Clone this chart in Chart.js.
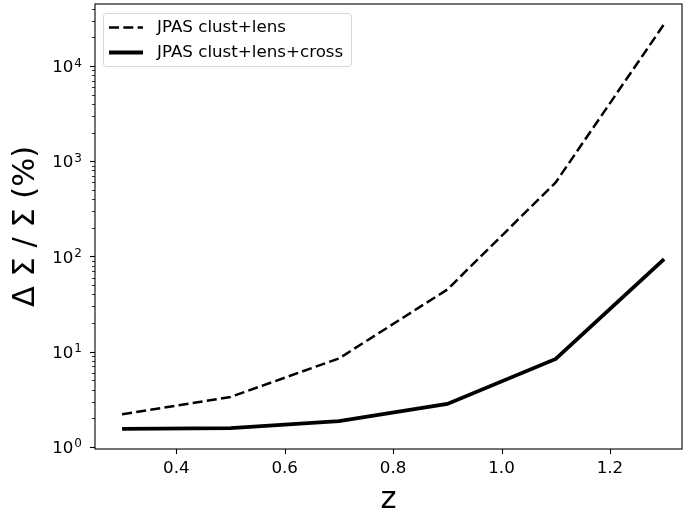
<!DOCTYPE html>
<html>
<head>
<meta charset="utf-8">
<script src="https://cdn.jsdelivr.net/npm/chart.js@4.4.0/dist/chart.umd.min.js"></script>
<style>
  html, body { margin: 0; padding: 0; background: #fff; }
  canvas { display: block; }
</style>
</head>
<body>
<canvas id="zchart" width="683" height="512"></canvas>
<script>
// redshift bins and relative errors (%)
const zValues = [0.3, 0.5, 0.7, 0.9, 1.1, 1.3];
const clustLens = [2.2, 3.35, 8.5, 45, 600, 27500];
const clustLensCross = [1.55, 1.58, 1.87, 2.83, 8.4, 94];
const xTicks = [0.4, 0.6, 0.8, 1.0, 1.2];
const yTicks = [1, 10, 100, 1000, 10000];
const yTickExps = ["0", "1", "2", "3", "4"];
const seriesNames = ["JPAS clust+lens", "JPAS clust+lens+cross"];

const FONT = "'DejaVu Sans', sans-serif";

// ticks, y labels, frame and legend drawn like matplotlib
const decorations = {
  id: "decorations",
  afterDraw(chart) {
    const ctx = chart.ctx;
    const area = chart.chartArea;
    const xs = chart.scales.x;
    const ys = chart.scales.y;
    ctx.save();
    ctx.strokeStyle = "#000";
    ctx.lineWidth = 1.1;
    ctx.strokeRect(area.left, area.top, area.right - area.left, area.bottom - area.top);

    // x ticks
    xTicks.forEach(v => {
      const px = Math.round(xs.getPixelForValue(v)) + 0.5;
      ctx.beginPath();
      ctx.moveTo(px, area.bottom);
      ctx.lineTo(px, area.bottom + 5);
      ctx.stroke();
    });
    // y ticks, major and minor
    for (let k = 0; k <= 4; k++) {
      for (let m = 1; m <= 9; m++) {
        const v = m * Math.pow(10, k);
        if (v < ys.min || v > ys.max) continue;
        const py = Math.round(ys.getPixelForValue(v)) + 0.5;
        ctx.lineWidth = m === 1 ? 1.1 : 0.8;
        ctx.beginPath();
        ctx.moveTo(area.left, py);
        ctx.lineTo(area.left - (m === 1 ? 5 : 3), py);
        ctx.stroke();
      }
    }
    // y labels as 10 with a raised exponent
    ctx.fillStyle = "#000";
    ctx.textAlign = "right";
    ctx.textBaseline = "alphabetic";
    yTicks.forEach((v, i) => {
      const py = ys.getPixelForValue(v);
      const right = area.left - 13;
      ctx.font = "12px " + FONT;
      const ew = ctx.measureText(yTickExps[i]).width;
      ctx.fillText(yTickExps[i], right, py + 0.5);
      ctx.font = "16.7px " + FONT;
      ctx.fillText("10", right - ew - 1, py + 6.2);
    });

    // legend
    const bx = area.left + 8, by = area.top + 9, bw = 248, bh = 53;
    ctx.fillStyle = "rgba(255,255,255,0.8)";
    ctx.strokeStyle = "#d6d6d6";
    ctx.lineWidth = 1;
    ctx.beginPath();
    ctx.roundRect(bx + 0.5, by + 0.5, bw, bh, 3);
    ctx.fill();
    ctx.stroke();
    ctx.font = "16.7px " + FONT;
    ctx.textAlign = "left";
    ctx.textBaseline = "middle";
    ctx.fillStyle = "#000";
    chart.data.datasets.forEach((ds, i) => {
      const ly = by + 14.5 + i * 25;
      ctx.strokeStyle = "#000";
      ctx.lineWidth = ds.borderWidth;
      ctx.setLineDash(ds.borderDash || []);
      ctx.beginPath();
      ctx.moveTo(bx + 6, ly);
      ctx.lineTo(bx + 40, ly);
      ctx.stroke();
      ctx.setLineDash([]);
      ctx.fillText(ds.label, bx + 54, ly);
    });
    ctx.restore();
  }
};

new Chart(document.getElementById("zchart"), {
  type: "line",
  data: {
    datasets: [{
      label: seriesNames[0],
      data: zValues.map((z, i) => ({x: z, y: clustLens[i]})),
      borderColor: "#000",
      borderWidth: 2.5,
      borderDash: [10, 4.3],
      pointRadius: 0,
      tension: 0
    }, {
      label: seriesNames[1],
      data: zValues.map((z, i) => ({x: z, y: clustLensCross[i]})),
      borderColor: "#000",
      borderWidth: 3.8,
      pointRadius: 0,
      tension: 0
    }]
  },
  options: {
    responsive: false,
    animation: false,
    devicePixelRatio: 1,
    layout: {padding: {top: 4, right: 1, left: 0, bottom: 0}},
    plugins: {legend: {display: false}, tooltip: {enabled: false}},
    scales: {
      x: {
        type: "linear",
        min: 0.25,
        max: 1.333,
        afterBuildTicks: s => { s.ticks = xTicks.map(v => ({value: v})); },
        afterFit: s => { s.height = 63; s.paddingLeft = 0; s.paddingRight = 0; },
        grid: {display: false, drawTicks: false},
        border: {display: false},
        ticks: {
          color: "#000",
          font: {family: FONT, size: 16.7},
          padding: 10,
          maxRotation: 0,
          callback: v => v.toFixed(1)
        },
        title: {
          display: true,
          text: "z",
          color: "#000",
          font: {family: FONT, size: 30.5, lineHeight: 0.8},
          padding: 0
        }
      },
      y: {
        type: "logarithmic",
        min: 0.952,
        max: 44800,
        afterBuildTicks: s => { s.ticks = yTicks.map(v => ({value: v})); },
        afterFit: s => { s.width = 95; s.paddingTop = 0; s.paddingBottom = 0; },
        grid: {display: false, drawTicks: false},
        border: {display: false},
        ticks: {display: false},
        title: {
          display: true,
          text: "\u0394 \u03a3 / \u03a3 (%)",
          color: "#000",
          font: {family: FONT, size: 30.5, lineHeight: 1},
          padding: {top: 11, bottom: 0}
        }
      }
    }
  },
  plugins: [decorations]
});
</script>
</body>
</html>
